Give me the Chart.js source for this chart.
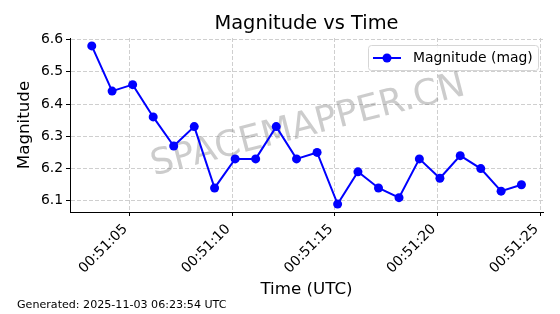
<!DOCTYPE html>
<html>
<head>
<meta charset="utf-8">
<script src="https://cdn.jsdelivr.net/npm/chart.js@4/dist/chart.umd.min.js"></script>
<style>
  body { margin: 0; background: #fff; }
  #wrap { width: 560px; height: 314px; position: relative; }
</style>
</head>
<body>
<div id="wrap"><canvas id="chart" width="560" height="314"></canvas></div>
<script>
// seconds after 00:51:00 UTC
const times = [3.16, 4.15, 5.15, 6.15, 7.15, 8.15, 9.14, 10.14, 11.14, 12.14, 13.13,
  14.13, 15.13, 16.12, 17.12, 18.12, 19.11, 20.11, 21.10, 22.10, 23.09, 24.08];
const magnitudes = [6.58, 6.44, 6.46, 6.36, 6.27, 6.33, 6.14, 6.23, 6.23, 6.33, 6.23,
  6.25, 6.09, 6.19, 6.14, 6.11, 6.23, 6.17, 6.24, 6.20, 6.13, 6.15];
const xTicks = [5, 10, 15, 20, 25];
const yTicks = [6.1, 6.2, 6.3, 6.4, 6.5, 6.6];

const FONT = "'DejaVu Sans', sans-serif";
const ctx = document.getElementById("chart").getContext('2d');

function fmtTime(s) {
  return '00:51:' + String(Math.round(s)).padStart(2, '0');
}

// title, axis titles, footer, watermark and legend
const decor = {
  id: 'decor',
  beforeDatasetsDraw(chart) {
    const c = chart.ctx;
    c.save();
    c.translate(308, 126);
    c.rotate(-14.5 * Math.PI / 180);
    c.font = '36px ' + FONT;
    c.fillStyle = 'rgba(128,128,128,0.4)';
    c.textAlign = 'center';
    c.textBaseline = 'middle';
    c.fillText('SPACEMAPPER.CN', 0, 0);
    c.restore();
  },
  afterDraw(chart) {
    const c = chart.ctx;
    const a = chart.chartArea;
    c.save();
    c.fillStyle = '#000';
    c.textAlign = 'center';
    c.textBaseline = 'middle';
    c.font = '19.4px ' + FONT;
    c.fillText('Magnitude vs Time', (a.left + a.right) / 2, 24);
    c.font = '16.7px ' + FONT;
    c.fillText('Time (UTC)', (a.left + a.right) / 2, 290);
    c.save();
    c.translate(25, (a.top + a.bottom) / 2);
    c.rotate(-Math.PI / 2);
    c.fillText('Magnitude', 0, 0);
    c.restore();
    c.font = '11.1px ' + FONT;
    c.textAlign = 'left';
    c.fillText('Generated: 2025-11-03 06:23:54 UTC', 17, 305);

    // legend box
    const ds = chart.data.datasets[0];
    c.font = '13.9px ' + FONT;
    const bw = 170, bh = 25;
    const bx = 368, by = 45;
    c.fillStyle = 'rgba(255,255,255,0.8)';
    c.strokeStyle = '#d6d6d6';
    c.lineWidth = 1;
    c.beginPath();
    c.roundRect(bx + 0.5, by + 0.5, bw, bh, 3);
    c.fill();
    c.stroke();
    const ly = by + bh / 2 + 0.5;
    c.strokeStyle = ds.borderColor;
    c.lineWidth = 2;
    c.beginPath();
    c.moveTo(bx + 5, ly);
    c.lineTo(bx + 33, ly);
    c.stroke();
    c.fillStyle = ds.pointBackgroundColor;
    c.beginPath();
    c.arc(bx + 19, ly, 4.5, 0, Math.PI * 2);
    c.fill();
    c.fillStyle = '#000';
    c.fillText(ds.label, bx + 45, ly);
    c.restore();
  }
};

const chartGraph = new Chart(ctx, {
  type: 'line',
  data: {
    datasets: [{
      label: 'Magnitude (mag)',
      data: times.map((t, i) => ({ x: t, y: magnitudes[i] })),
      borderColor: '#0000ff',
      backgroundColor: '#0000ff',
      pointBackgroundColor: '#0000ff',
      pointBorderWidth: 0,
      pointRadius: 4.5,
      borderWidth: 2,
      tension: 0
    }]
  },
  options: {
    responsive: false,
    animation: false,
    layout: { padding: { top: 38, right: 17, left: 0, bottom: 0 } },
    plugins: {
      legend: { display: false },
      tooltip: { enabled: false }
    },
    scales: {
      x: {
        type: 'linear',
        min: 2.1,
        max: 25.13,
        afterFit(s) { s.height = 102; },
        afterBuildTicks(s) { s.ticks = xTicks.map(v => ({ value: v })); },
        grid: {
          color: '#cfcfcf',
          tickColor: '#000',
          tickLength: 4,
          tickBorderDash: []
        },
        border: { display: true, color: '#000', width: 1, dash: [4, 2] },
        ticks: {
          color: '#000',
          font: { family: FONT, size: 13.9 },
          minRotation: 45,
          maxRotation: 45,
          padding: 5,
          labelOffset: -4,
          callback: v => fmtTime(v)
        }
      },
      y: {
        min: 6.0655,
        max: 6.6045,
        afterFit(s) { s.width = 70; },
        afterBuildTicks(s) { s.ticks = yTicks.map(v => ({ value: v })); },
        grid: {
          color: '#cfcfcf',
          tickColor: '#000',
          tickLength: 4,
          tickBorderDash: []
        },
        border: { display: true, color: '#000', width: 1, dash: [4, 2] },
        ticks: {
          color: '#000',
          font: { family: FONT, size: 13.9 },
          padding: 3,
          callback: v => v.toFixed(1)
        }
      }
    }
  },
  plugins: [decor]
});
</script>
</body>
</html>
